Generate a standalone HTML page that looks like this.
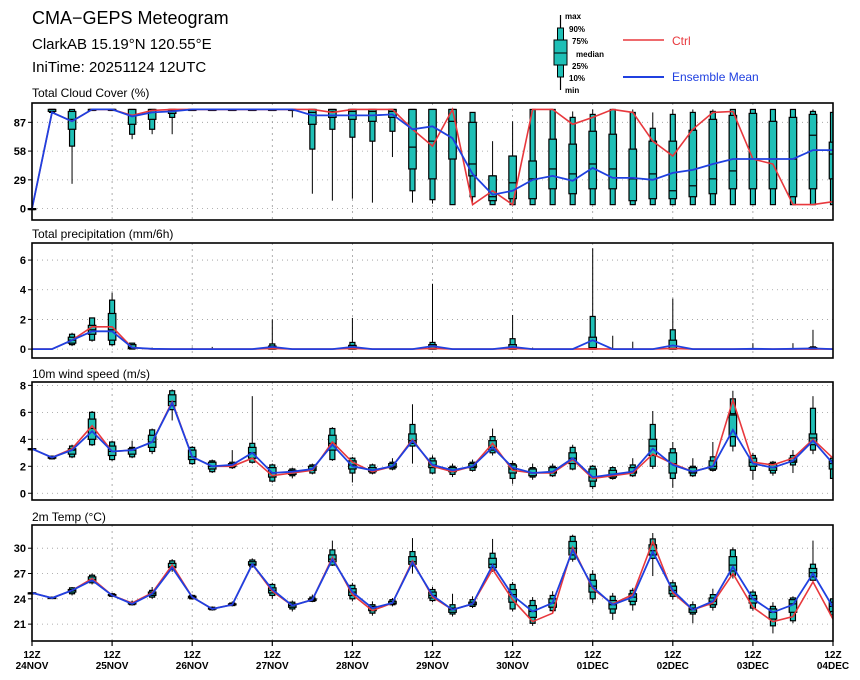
<!DOCTYPE html>
<html><head><meta charset="utf-8"><style>
html,body{margin:0;padding:0;background:#fff;}
svg{display:block;font-family:"Liberation Sans","DejaVu Sans",sans-serif;}
</style></head><body>
<svg id="chart" width="860" height="680" viewBox="0 0 860 680" xmlns="http://www.w3.org/2000/svg">
<g>
<text x="32" y="24" font-size="18">CMA−GEPS Meteogram</text>
<text x="32" y="49" font-size="15">ClarkAB 15.19°N 120.55°E</text>
<text x="32" y="72" font-size="15">IniTime: 20251124 12UTC</text>
</g>
<g font-size="8" font-weight="bold">
<line x1="560.5" y1="15" x2="560.5" y2="90" stroke="#000" stroke-width="1.2"/>
<rect x="557.5" y="28" width="6" height="49" fill="#1fbfb6" stroke="#000"/>
<rect x="554" y="40" width="13" height="25" fill="#1fbfb6" stroke="#000"/>
<line x1="554" y1="53" x2="567" y2="53" stroke="#000"/>
<text x="565" y="19">max</text>
<text x="569" y="32">90%</text>
<text x="572" y="44">75%</text>
<text x="576" y="57">median</text>
<text x="572" y="69">25%</text>
<text x="569" y="81">10%</text>
<text x="565" y="93">min</text>
<line x1="623" y1="40" x2="664" y2="40" stroke="#e8383d" stroke-width="1.5"/>
<text x="672" y="45" font-size="12" font-weight="normal" fill="#e8383d">Ctrl</text>
<line x1="623" y1="77" x2="664" y2="77" stroke="#2040e0" stroke-width="2"/>
<text x="672" y="81" font-size="12" font-weight="normal" fill="#2040e0">Ensemble Mean</text>
</g>
</svg>
<script>
// ---- Data (41 steps, 6-hourly from 12Z 24NOV) ----
const dayLabels = ["24NOV","25NOV","26NOV","27NOV","28NOV","29NOV","30NOV","01DEC","02DEC","03DEC","04DEC"];

// Cloud cover (%)
const cloudMin = [0,96,25,100,100,70,75,75,100,100,100,100,100,92,15,8,10,6,52,6,5,4,4,4,4,4,4,4,4,4,4,4,4,4,4,4,4,4,4,4,4];
const cloudP10 = [0,97,63,100,100,75,80,92,100,100,100,100,100,100,60,80,72,68,78,18,9,4,12,4,4,4,4,4,4,4,4,4,4,4,4,4,4,4,4,4,4];
const cloudP25 = [0,98,80,100,100,85,90,96,100,100,100,100,100,100,85,92,90,88,92,40,30,50,33,8,10,10,20,15,20,20,8,10,10,12,15,20,20,20,12,20,30];
const cloudMed = [0,100,90,100,100,94,97,99,100,100,100,100,100,100,97,98,98,98,98,62,68,88,45,12,26,30,40,35,45,40,30,35,18,23,30,38,50,50,50,74,55];
const cloudP75 = [0,100,98,100,100,100,100,100,100,100,100,100,100,100,100,100,100,100,100,100,100,100,87,33,53,48,70,65,78,75,60,68,68,79,90,94,96,88,92,95,67];
const cloudP90 = [0,100,100,100,100,100,100,100,100,100,100,100,100,100,100,100,100,100,100,100,100,100,97,33,53,100,100,92,95,100,97,81,95,97,98,100,100,100,100,98,97];
const cloudMax = [0,100,100,100,100,100,100,100,100,100,100,100,100,100,100,100,100,100,100,100,100,100,97,68,88,100,100,98,100,100,100,97,100,100,100,100,100,100,100,100,100];
const cloudMean = [0,97,88,100,100,93,97,98,100,100,100,100,100,100,94,94,94,94,95,80,83,71,35,14,18,29,33,28,41,31,31,29,36,39,45,50,50,50,50,59,59];
const cloudCtrl = [0,97,88,100,100,94,99,100,100,100,100,100,100,100,100,97,100,100,100,80,63,100,4,18,4,100,100,85,92,100,97,68,53,80,97,98,50,45,4,4,7];

// Precipitation (mm/6h)
const prMin = [0,0,0.2,0.5,0.2,0,0,0,0,0,0,0,0,0,0,0,0,0,0,0,0,0,0,0,0,0,0,0,0,0,0,0,0,0,0,0,0,0,0,0,0];
const prP10 = [0,0,0.3,0.6,0.3,0,0,0,0,0,0,0,0,0,0,0,0,0,0,0,0,0,0,0,0,0,0,0,0,0,0,0,0,0,0,0,0,0,0,0,0];
const prP25 = [0,0,0.4,1.0,0.6,0.03,0,0,0,0,0,0,0,0,0,0,0,0,0,0,0,0,0,0,0,0,0,0,0,0,0,0,0,0,0,0,0,0,0,0,0];
const prMed = [0,0,0.6,1.3,1.3,0.1,0,0,0,0,0,0,0.05,0,0,0,0.05,0,0,0,0.05,0,0,0,0.05,0,0,0,0.1,0,0,0,0.05,0,0,0,0,0,0,0.02,0];
const prP75 = [0,0,0.8,1.6,2.4,0.3,0,0,0,0,0,0,0.2,0,0,0,0.25,0,0,0,0.3,0,0,0,0.3,0,0,0,0.8,0,0,0,0.6,0,0,0,0,0,0,0.1,0];
const prP90 = [0,0,1.0,2.1,3.3,0.4,0,0,0,0,0,0,0.35,0,0,0,0.45,0,0,0,0.45,0,0,0,0.7,0,0,0,2.2,0,0,0,1.3,0,0,0,0,0,0,0.15,0];
const prMax = [0,0,1.1,2.1,3.8,0.4,0.1,0,0.1,0.15,0,0,2.0,0,0,0,2.1,0,0,0,4.4,0,0,0,2.3,0.1,0,0,6.8,0.9,0.5,0,3.4,0,0,0,0.4,0,0.4,1.3,0];
const prMean = [0,0,0.6,1.2,1.2,0.1,0.02,0,0,0,0,0,0.15,0,0,0,0.15,0,0,0,0.2,0,0,0,0.15,0,0,0,0.6,0,0,0,0.25,0,0,0,0.02,0,0.02,0.05,0];
const prCtrl = [0,0,0.6,1.5,1.5,0.1,0,0,0,0,0,0,0.05,0,0,0,0.05,0,0,0,0.05,0,0,0,0.05,0,0,0,0.02,0,0,0,0.05,0,0,0,0,0,0,0,0];

// 10m wind speed (m/s)
const wMin = [3.3,2.5,2.6,3.5,2.4,2.6,2.9,5.4,2.1,1.5,1.8,2.2,0.8,1.1,1.4,2.4,0.8,1.4,1.7,2.2,1.4,1.2,1.6,2.8,0.7,1.0,1.2,1.7,0.3,1.0,1.2,1.8,0.4,1.2,1.6,3.1,1.0,1.3,1.5,2.9,1.0];
const wP10 = [3.3,2.55,2.7,3.6,2.5,2.7,3.1,6.2,2.2,1.6,1.9,2.3,0.9,1.3,1.5,2.5,1.5,1.5,1.8,3.5,1.5,1.4,1.7,3.0,1.1,1.2,1.3,1.8,0.5,1.1,1.3,2.0,1.1,1.3,1.7,3.5,1.7,1.5,2.1,3.2,1.1];
const wP25 = [3.3,2.6,2.9,4.0,2.8,2.9,3.4,6.5,2.5,1.8,2.0,2.6,1.2,1.4,1.7,3.2,1.8,1.6,1.9,3.7,1.9,1.6,1.9,3.2,1.5,1.3,1.5,2.2,0.9,1.2,1.5,2.8,1.5,1.5,1.8,4.2,2.0,1.7,2.3,3.6,1.8];
const wMed = [3.3,2.65,3.2,4.8,3.1,3.2,3.8,6.8,2.7,2.0,2.1,3.0,1.5,1.6,1.8,3.7,2.1,1.7,2.0,3.9,2.1,1.7,2.0,3.4,1.8,1.5,1.6,2.6,1.2,1.4,1.6,3.5,2.2,1.6,2.0,5.8,2.3,1.9,2.4,4.1,2.2];
const wP75 = [3.3,2.7,3.3,5.5,3.5,3.3,4.3,7.3,3.2,2.3,2.2,3.4,1.9,1.7,2.0,4.3,2.4,1.9,2.2,4.4,2.4,1.9,2.2,3.9,2.1,1.8,1.9,3.0,1.8,1.7,1.9,4.0,3.0,1.9,2.4,5.9,2.6,2.2,2.6,4.4,2.4];
const wP90 = [3.3,2.75,3.5,6.0,3.8,3.4,4.7,7.6,3.4,2.4,2.3,3.7,2.1,1.8,2.1,4.8,2.6,2.1,2.3,5.1,2.6,2.0,2.3,4.2,2.2,1.9,2.0,3.4,2.0,1.9,2.1,5.1,3.3,2.0,2.7,7.0,2.8,2.3,2.8,6.3,2.6];
const wMax = [3.3,2.8,3.6,6.1,3.9,3.9,4.8,7.7,3.5,2.5,3.2,7.2,2.2,1.9,2.2,4.9,2.7,2.2,2.6,6.6,2.8,2.2,2.5,4.8,2.4,2.2,2.2,3.6,2.1,2.0,2.6,6.1,3.8,2.6,3.8,7.6,3.0,2.4,3.2,7.2,2.7];
const wMean = [3.3,2.65,3.2,4.6,3.1,3.2,3.8,6.7,2.7,2.0,2.1,3.0,1.5,1.6,1.8,3.6,2.0,1.7,2.0,3.9,2.1,1.7,2.0,3.4,1.9,1.5,1.6,2.6,1.2,1.4,1.6,3.3,2.1,1.6,2.0,4.7,2.2,1.9,2.4,3.9,2.2];
const wCtrl = [3.3,2.65,3.3,5.0,3.1,3.2,3.8,6.8,2.7,2.0,2.0,2.6,1.3,1.5,1.7,3.8,2.3,1.6,2.0,4.0,2.0,1.6,2.0,3.7,1.7,1.5,1.5,2.5,1.1,1.3,1.5,2.9,2.2,1.6,2.0,6.9,2.3,2.1,2.6,4.0,2.6];

// 2m temperature (°C)
const tMin = [24.7,24.0,24.4,25.7,24.2,23.2,24.0,27.2,23.9,22.6,23.1,27.7,24.0,22.5,23.6,27.9,23.7,22.0,23.1,27.0,23.6,21.9,22.9,27.2,22.5,20.8,22.3,28.4,23.5,21.5,22.6,26.7,23.9,21.1,22.6,26.4,22.6,19.9,21.1,25.9,21.8];
const tP10 = [24.7,24.05,24.6,25.9,24.3,23.3,24.2,27.5,24.0,22.7,23.2,27.8,24.4,22.8,23.7,28.0,24.0,22.3,23.3,27.9,23.8,22.2,23.1,27.4,22.8,21.1,22.6,28.7,24.0,22.3,23.3,28.8,24.3,22.2,23.0,26.8,22.9,20.8,21.4,26.2,22.1];
const tP25 = [24.7,24.1,24.8,26.1,24.4,23.4,24.4,27.7,24.1,22.8,23.3,28.0,24.7,23.0,23.8,28.4,24.4,22.6,23.4,28.1,24.1,22.4,23.3,27.7,23.6,21.8,23.0,29.2,24.8,22.8,23.7,29.2,24.6,22.4,23.3,27.3,23.5,21.6,22.4,26.6,22.5];
const tMed = [24.7,24.1,25.0,26.3,24.4,23.4,24.6,27.8,24.2,22.8,23.3,28.1,25.0,23.2,23.9,28.7,24.8,22.9,23.5,28.4,24.4,22.7,23.4,28.1,24.5,22.5,23.5,30.0,25.5,23.3,24.2,29.7,25.0,22.7,23.7,28.0,24.0,22.4,23.4,27.1,23.1];
const tP75 = [24.7,24.15,25.1,26.6,24.5,23.5,24.8,28.2,24.3,22.9,23.4,28.4,25.3,23.4,24.0,29.2,25.2,23.1,23.7,29.0,24.8,22.9,23.6,28.8,25.1,23.2,24.0,30.8,26.2,23.8,24.6,30.4,25.5,22.9,24.1,29.0,24.4,22.8,23.9,27.6,23.6];
const tP90 = [24.7,24.2,25.3,26.8,24.6,23.6,25.0,28.5,24.4,23.0,23.5,28.6,25.7,23.6,24.2,29.8,25.6,23.3,23.9,29.6,25.1,23.3,23.9,29.4,25.7,23.8,24.4,31.4,26.9,24.3,25.0,31.1,25.9,23.3,24.5,29.8,24.8,23.1,24.1,28.1,24.0];
const tMax = [24.7,24.2,25.4,27.0,24.7,23.8,25.4,28.7,24.5,23.1,23.7,28.8,25.9,23.8,24.5,30.9,25.9,23.7,24.1,31.2,25.4,24.6,24.3,31.1,26.0,24.2,24.9,31.6,27.4,24.7,25.3,31.8,26.2,23.7,25.2,30.1,25.1,23.6,24.3,30.9,24.2];
const tMean = [24.7,24.1,25.0,26.2,24.4,23.4,24.6,27.7,24.2,22.8,23.3,28.1,25.1,23.2,23.9,28.7,24.8,22.9,23.5,28.3,24.4,22.7,23.4,28.0,24.4,22.5,23.5,29.8,25.4,23.3,24.2,29.6,25.0,22.7,23.7,27.8,24.0,22.4,23.3,27.0,23.0];
const tCtrl = [24.7,24.1,25.0,26.4,24.4,23.5,24.7,28.0,24.2,22.8,23.3,28.1,24.9,23.2,23.9,28.9,24.5,22.6,23.5,28.5,24.2,22.7,23.4,27.5,23.9,21.3,22.3,30.1,25.2,23.4,24.5,30.8,24.7,22.7,23.5,27.0,23.0,21.3,21.9,26.0,21.6];

// ---- Drawing ----
const NS = "http://www.w3.org/2000/svg";
const svg = document.getElementById("chart");
const X0 = 32, X1 = 833, N = 41;
function xAt(i){ return X0 + (X1 - X0) * i / (N - 1); }
function mk(tag, attrs, parent){ const e = document.createElementNS(NS, tag); for (const k in attrs) e.setAttribute(k, attrs[k]); (parent || svg).appendChild(e); return e; }
const defs = mk("defs", {});

const panels = [
  {name:"cloud", title:"Total Cloud Cover (%)", top:103, bot:220, vMin:-11.5, vMax:106.5, ticks:[0,29,58,87],
   s:[cloudMin,cloudP10,cloudP25,cloudMed,cloudP75,cloudP90,cloudMax], mean:cloudMean, ctrl:cloudCtrl, ty:97},
  {name:"precip", title:"Total precipitation (mm/6h)", top:243, bot:358, vMin:-0.6, vMax:7.15, ticks:[0,2,4,6],
   s:[prMin,prP10,prP25,prMed,prP75,prP90,prMax], mean:prMean, ctrl:prCtrl, ty:238},
  {name:"wind", title:"10m wind speed (m/s)", top:382, bot:500, vMin:-0.5, vMax:8.25, ticks:[0,2,4,6,8],
   s:[wMin,wP10,wP25,wMed,wP75,wP90,wMax], mean:wMean, ctrl:wCtrl, ty:378},
  {name:"temp", title:"2m Temp (°C)", top:525, bot:641, vMin:19.0, vMax:32.75, ticks:[21,24,27,30],
   s:[tMin,tP10,tP25,tMed,tP75,tP90,tMax], mean:tMean, ctrl:tCtrl, ty:521}
];

panels.forEach(function(p, pi){
  const y = function(v){ return p.bot - (v - p.vMin) / (p.vMax - p.vMin) * (p.bot - p.top); };
  const cp = mk("clipPath", {id:"clip-"+p.name}, defs);
  mk("rect", {x:X0-20, y:p.top, width:X1-X0+20, height:p.bot-p.top}, cp);
  const g = mk("g", {});
  
  
  const t = mk("text", {x:32, y:p.ty, "font-size":12}, g);
  t.textContent = p.title;
  
  
  p.ticks.forEach(function(v){
    const gl = mk("line", {x1:X0, x2:X1, y1:y(v), y2:y(v), stroke:"#999", "stroke-width":0.8, "stroke-dasharray":"1,4"}, g);
    
    
    mk("line", {x1:X0-4, x2:X0, y1:y(v), y2:y(v), stroke:"#000", "stroke-width":1}, g);
    const tl = mk("text", {x:X0-6, y:y(v)+4, "font-size":11, "font-weight":"bold", "text-anchor":"end"}, g);
    tl.textContent = String(v);
    
    
  });
  for (let d = 1; d < 10; d++){
    const xv = xAt(d*4);
    const vl = mk("line", {x1:xv, x2:xv, y1:p.top, y2:p.bot, stroke:"#999", "stroke-width":0.8, "stroke-dasharray":"2,4"}, g);
    
    
  }
  const inner = mk("g", {"clip-path":"url(#clip-"+p.name+")"}, g);
  
  
  const [mn,p10,p25,md,p75,p90,mx] = p.s;
  for (let i = 0; i < N; i++){
    if (mx[i] === 0 && mn[i] === 0 && p.name === "precip") continue;
    const xc = xAt(i);
    const bg = mk("g", {}, inner);
    
    
    mk("line", {x1:xc, x2:xc, y1:y(mx[i]), y2:y(mn[i]), stroke:"#000", "stroke-width":1}, bg);
    if (p90[i] > p10[i] || p.name !== "precip"){
      mk("rect", {x:xc-2.5, y:y(p90[i]), width:5, height:Math.max(y(p10[i])-y(p90[i]),1), fill:"#1fbfb6", stroke:"#000", "stroke-width":1.2}, bg);
      mk("rect", {x:xc-3.75, y:y(p75[i]), width:7.5, height:Math.max(y(p25[i])-y(p75[i]),1), fill:"#1fbfb6", stroke:"#000", "stroke-width":1.2}, bg);
      mk("line", {x1:xc-3.75, x2:xc+3.75, y1:y(md[i]), y2:y(md[i]), stroke:"#000", "stroke-width":1.2}, bg);
    }
  }
  const pts = function(arr){ return arr.map(function(v,i){ return xAt(i).toFixed(1)+","+y(v).toFixed(1); }).join(" "); };
  const cl = mk("polyline", {points:pts(p.ctrl), fill:"none", stroke:"#e8383d", "stroke-width":1.6}, inner);
  
  
  const ml = mk("polyline", {points:pts(p.mean), fill:"none", stroke:"#2040e0", "stroke-width":1.8}, inner);
  
  
  const fr = mk("rect", {x:X0, y:p.top, width:X1-X0, height:p.bot-p.top, fill:"none", stroke:"#000", "stroke-width":1.6}, g);
  
  
  if (pi === 3){
    for (let d = 0; d < dayLabels.length; d++){
      const xv = xAt(d*4);
      mk("line", {x1:xv, x2:xv, y1:p.bot, y2:p.bot+5, stroke:"#000", "stroke-width":1.2}, g);
      const l1 = mk("text", {x:xv, y:p.bot+17, "font-size":10, "font-weight":"bold", "text-anchor":"middle"}, g);
      l1.textContent = "12Z";
      
      
      const l2 = mk("text", {x:xv, y:p.bot+28, "font-size":10, "font-weight":"bold", "text-anchor":"middle"}, g);
      l2.textContent = dayLabels[d];
      
      
    }
  }
});
</script>
</body></html>
